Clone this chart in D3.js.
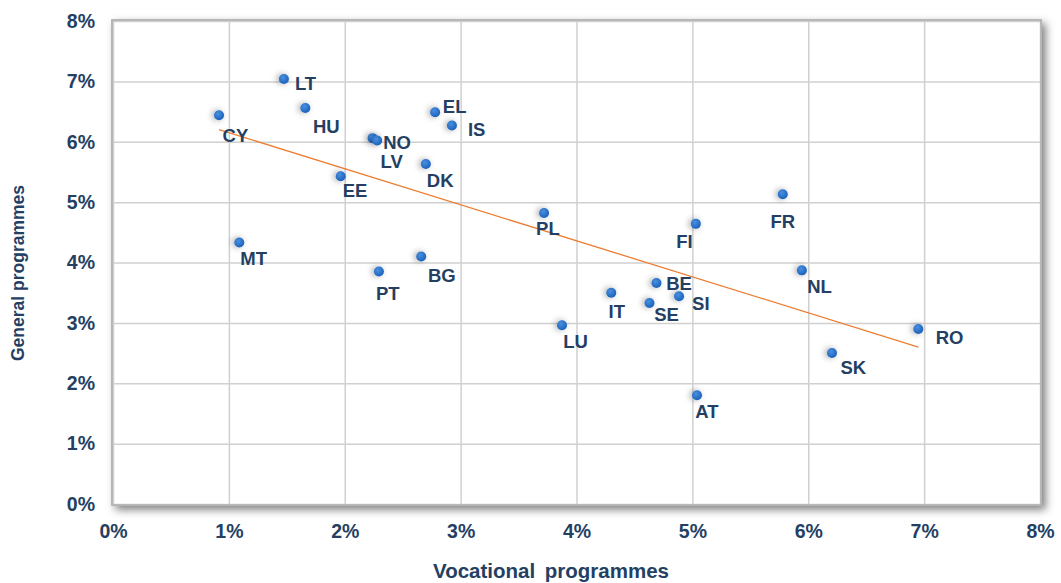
<!DOCTYPE html>
<html>
<head>
<meta charset="utf-8">
<script src="https://cdn.jsdelivr.net/npm/d3@7"></script>
<style>
  html, body { margin: 0; padding: 0; background: #ffffff; }
  svg { display: block; font-family: "Liberation Sans", Arial, sans-serif; }
</style>
</head>
<body>
<svg id="chart" width="1061" height="583"></svg>
<script>
// ---- data (percent) ----
const countries   = ["CY","LT","HU","LV","NO","EL","IS","DK","EE","MT","PT","BG","PL","FI","FR","NL","BE","SI","IT","SE","LU","SK","RO","AT"];
const vocational  = [0.915,1.475,1.66,2.24,2.28,2.78,2.925,2.70,1.965,1.09,2.295,2.66,3.72,5.03,5.78,5.945,4.69,4.885,4.30,4.63,3.875,6.205,6.95,5.04];
const general     = [6.44,7.04,6.56,6.06,6.02,6.49,6.27,5.63,5.43,4.33,3.85,4.10,4.82,4.64,5.13,3.87,3.66,3.44,3.50,3.33,2.96,2.50,2.90,1.80];
const trendX      = [0.915, 6.95];
const trendY      = [6.20, 2.60];
const xTicks      = [0,1,2,3,4,5,6,7,8];
const yTicks      = [0,1,2,3,4,5,6,7,8];
const xTitle      = "Vocational programmes";
const yTitle      = "General programmes";

// ---- label placement (layout only) ----
const labelOffset = {
  LT:[11,11], CY:[3.5,27], HU:[7.6,25], NO:[6,8], LV:[8,29.5], EL:[7.7,1], IS:[16,11],
  DK:[1,22.7], EE:[2,20.7], PL:[-8,22], FI:[-19.7,24], FR:[-12.3,33.7], NL:[5.3,22.7],
  BE:[9.7,7.3], SI:[13,13.7], IT:[-2.7,25], SE:[4.7,18.3], LU:[1.3,23], SK:[8.4,21],
  RO:[17.4,15], MT:[1,22], PT:[-3,28], BG:[6.7,25.7], AT:[-1.7,23]
};

const svg = d3.select("#chart");
const L = 113, R = 1040, T = 21, B = 504;
const x = d3.scaleLinear().domain([0, 8]).range([L, R]);
const y = d3.scaleLinear().domain([0, 8]).range([B, T]);
const navy = "#243f62";

const defs = svg.append("defs");
const fBox = defs.append("filter").attr("id","boxShadow")
  .attr("x","-5%").attr("y","-10%").attr("width","112%").attr("height","125%");
fBox.append("feDropShadow").attr("dx",4).attr("dy",4).attr("stdDeviation",4)
  .attr("flood-color","#000").attr("flood-opacity",0.5);
const fDot = defs.append("filter").attr("id","dotShadow")
  .attr("x","-150%").attr("y","-150%").attr("width","400%").attr("height","400%");
fDot.append("feDropShadow").attr("dx",-2).attr("dy",0).attr("stdDeviation",3)
  .attr("flood-color","#000").attr("flood-opacity",0.35);
const grad = defs.append("radialGradient").attr("id","dotGrad")
  .attr("cx","40%").attr("cy","35%").attr("r","65%");
grad.append("stop").attr("offset","0%").attr("stop-color","#4a8fe0");
grad.append("stop").attr("offset","100%").attr("stop-color","#1a62bb");

// plot box with shadow
svg.append("rect")
  .attr("x", L - 1).attr("y", T - 1).attr("width", R - L + 2).attr("height", B - T + 2)
  .attr("fill","#fff").attr("stroke","#bdbdbd").attr("stroke-width",1.5)
  .attr("filter","url(#boxShadow)");

// grid
const gx = svg.append("g").attr("transform",`translate(0,${B})`)
  .call(d3.axisBottom(x).tickValues(xTicks).tickSize(-(B - T)).tickFormat(""));
gx.select(".domain").remove();
gx.selectAll("line").attr("stroke","#d0d0d0").attr("stroke-width",1.5);
const gy = svg.append("g").attr("transform",`translate(${L},0)`)
  .call(d3.axisLeft(y).tickValues(yTicks).tickSize(-(R - L)).tickFormat(""));
gy.select(".domain").remove();
gy.selectAll("line").attr("stroke","#d0d0d0").attr("stroke-width",1.5);

// border on top of grid
svg.append("rect")
  .attr("x", L - 1).attr("y", T - 1).attr("width", R - L + 2).attr("height", B - T + 2)
  .attr("fill","none").attr("stroke","#b0b0b0").attr("stroke-width",1.5);

// axis tick labels
const ax = svg.append("g").attr("transform",`translate(0,${B})`)
  .call(d3.axisBottom(x).tickValues(xTicks).tickSize(0).tickPadding(20).tickFormat(d => d + "%"));
ax.select(".domain").remove();
ax.selectAll("text").attr("font-size",19.5).attr("font-weight","bold").attr("fill",navy)
  .attr("font-family","'Liberation Sans', Arial, sans-serif");

const ay = svg.append("g").attr("transform",`translate(${L},0)`)
  .call(d3.axisLeft(y).tickValues(yTicks).tickSize(0).tickPadding(18).tickFormat(d => d + "%"));
ay.select(".domain").remove();
ay.selectAll("text").attr("font-size",19.5).attr("font-weight","bold").attr("fill",navy)
  .attr("font-family","'Liberation Sans', Arial, sans-serif");

// trend line
svg.append("line")
  .attr("x1", x(trendX[0])).attr("y1", y(trendY[0]))
  .attr("x2", x(trendX[1])).attr("y2", y(trendY[1]))
  .attr("stroke","#ed7d31").attr("stroke-width",1.3);

// points
const pts = countries.map((c, i) => ({c, vx: vocational[i], gy: general[i]}));
svg.append("g").selectAll("circle").data(pts).join("circle")
  .attr("cx", d => x(d.vx)).attr("cy", d => y(d.gy)).attr("r", 5)
  .attr("fill","url(#dotGrad)").attr("filter","url(#dotShadow)");

// labels
svg.append("g").selectAll("text").data(pts).join("text")
  .attr("x", d => x(d.vx) + labelOffset[d.c][0])
  .attr("y", d => y(d.gy) + labelOffset[d.c][1])
  .attr("font-size",18.5).attr("font-weight","bold").attr("fill",navy)
  .text(d => d.c);

// axis titles
svg.append("text").attr("x", 551).attr("y", 578).attr("text-anchor","middle")
  .attr("font-size",20.5).attr("font-weight","bold").attr("fill",navy)
  .attr("word-spacing", 4)
  .text(xTitle);
svg.append("text").attr("transform","translate(24,273) rotate(-90)").attr("text-anchor","middle")
  .attr("font-size",17.5).attr("font-weight","bold").attr("fill",navy)
  .text(yTitle);
</script>
</body>
</html>
